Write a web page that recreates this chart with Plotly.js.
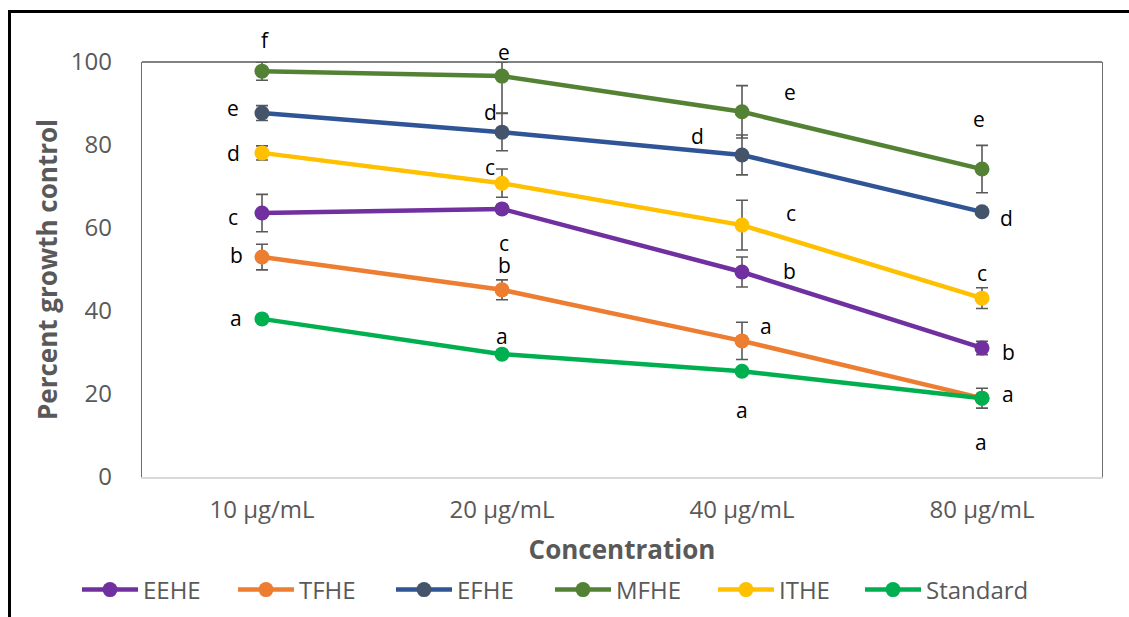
<!DOCTYPE html>
<html>
<head>
<meta charset="utf-8">
<script src="https://cdn.plot.ly/plotly-3.0.1.min.js"></script>
<style>
  html, body { margin: 0; padding: 0; background: #ffffff; overflow: hidden; }
  #chart { width: 1129px; height: 617px; position: absolute; left: 0; top: 0; }
  #frame { position: absolute; left: 8px; top: 10px; width: 3000px; height: 3000px;
           border-left: 3px solid #000; border-top: 3px solid #000; pointer-events: none; }
</style>
</head>
<body>
<div id="chart"></div>
<div id="frame"></div>
<script>
// ---- data ----
const categories = ['10 µg/mL', '20 µg/mL', '40 µg/mL', '80 µg/mL'];

const EEHE = [63.6, 64.6, 49.4, 31.1];
const EEHE_err = [4.5, 1.0, 3.6, 1.6];
const EEHE_letters = ['c', 'c', 'b', 'b'];

const TFHE = [53.0, 45.1, 32.8, 19.0];
const TFHE_err = [3.1, 2.4, 4.5, 2.4];
const TFHE_letters = ['b', 'b', 'a', 'a'];

const EFHE = [87.7, 83.1, 77.6, 63.9];
const EFHE_err = [1.8, 4.5, 4.8, 0.8];
const EFHE_letters = ['e', 'd', 'd', 'd'];

const MFHE = [97.8, 96.6, 88.0, 74.2];
const MFHE_err = [2.2, 8.9, 6.3, 5.7];
const MFHE_letters = ['f', 'e', 'e', 'e'];

const ITHE = [78.1, 70.8, 60.7, 43.1];
const ITHE_err = [1.7, 3.4, 6.0, 2.5];
const ITHE_letters = ['d', 'c', 'c', 'c'];

const Standard = [38.1, 29.6, 25.5, 19.0];
const Standard_err = [0, 0, 0, 0];
const Standard_letters = ['a', 'a', 'a', 'a'];

const Y_MAX = 100;

// ---- styling (not data) ----
const series = [
  {name: 'EEHE', y: EEHE, err: EEHE_err, letters: EEHE_letters, line: '#7030A0', marker: '#7030A0', lw: 85,
   offs: [[-29, 4], [2, 34], [47, -1], [26, 4]]},
  {name: 'TFHE', y: TFHE, err: TFHE_err, letters: TFHE_letters, line: '#ED7D31', marker: '#ED7D31', lw: 87,
   offs: [[-26, -2], [2, -25], [24, -15], [-1, 44]]},
  {name: 'EFHE', y: EFHE, err: EFHE_err, letters: EFHE_letters, line: '#2F5597', marker: '#44546A', lw: 88,
   offs: [[-29, -5], [-12, -20], [-45, -19], [24, 6]]},
  {name: 'MFHE', y: MFHE, err: MFHE_err, letters: MFHE_letters, line: '#548235', marker: '#548235', lw: 92,
   offs: [[3, -31], [2, -24], [48, -20], [-3, -50]]},
  {name: 'ITHE', y: ITHE, err: ITHE_err, letters: ITHE_letters, line: '#FFC000', marker: '#FFC000', lw: 76,
   offs: [[-29, 0], [-12, -16], [49, -12], [0, -25]]},
  {name: 'Standard', y: Standard, err: Standard_err, letters: Standard_letters, line: '#00B050', marker: '#00B050', lw: 106,
   offs: [[-26, -1], [0, -18], [0, 39], [26, -4]]}
];

const FONT = '"Open Sans", "Noto Sans", sans-serif';
const GRAY = '#595959';

const traces = series.map(s => ({
  type: 'scatter',
  mode: 'lines+markers',
  name: s.name,
  x: categories,
  y: s.y,
  line: {color: s.line, width: 4.5},
  marker: {color: s.marker, size: 15},
  legendwidth: s.lw,
  // error bars are clipped at the top of the plot area, as in the original
  error_y: {type: 'data', symmetric: false,
            array: s.err.map((e, i) => Math.min(e, Y_MAX - s.y[i])),
            arrayminus: s.err,
            visible: true, color: '#595959', thickness: 1.6, width: 6},
  cliponaxis: true
}));

const annotations = [];
series.forEach(s => {
  s.letters.forEach((t, i) => {
    annotations.push({
      xref: 'x', yref: 'y', x: categories[i], y: s.y[i],
      xshift: s.offs[i][0], yshift: -s.offs[i][1],
      text: t, showarrow: false,
      font: {family: FONT, size: 21, color: '#000000'}
    });
  });
});

const layout = {
  width: 1129, height: 617,
  paper_bgcolor: '#ffffff', plot_bgcolor: '#ffffff',
  margin: {l: 142, r: 27, t: 62, b: 140},
  font: {family: FONT, color: GRAY},
  showlegend: true,
  legend: {
    orientation: 'h', xref: 'container', yref: 'container',
    x: 77 / 1129, xanchor: 'left', y: 1 - 590 / 617, yanchor: 'middle',
    font: {family: FONT, size: 24, color: GRAY},
    entrywidth: 85, entrywidthmode: 'pixels', itemwidth: 56,
    traceorder: 'normal', bgcolor: 'rgba(0,0,0,0)'
  },
  xaxis: {
    type: 'category', range: [-0.5, 3.5],
    showgrid: false, zeroline: false,
    showline: true, linecolor: '#d9d9d9', linewidth: 2,
    ticks: '', ticklabelstandoff: 10,
    tickfont: {family: FONT, size: 24, color: GRAY},
    title: {text: 'Concentration', standoff: 21,
            font: {family: FONT, size: 26, color: GRAY, weight: 'bold'}}
  },
  yaxis: {
    range: [0, Y_MAX], dtick: 20, tick0: 0,
    showgrid: false, zeroline: false,
    showline: true, mirror: true, linecolor: '#6e6e6e', linewidth: 1.3,
    ticks: '', ticklabelstandoff: 24,
    tickfont: {family: FONT, size: 24, color: GRAY},
    title: {text: 'Percent growth control', standoff: 5,
            font: {family: FONT, size: 26, color: GRAY, weight: 'bold'}}
  },
  shapes: [
    {type: 'line', xref: 'paper', yref: 'paper', x0: 0, x1: 1, y0: 1, y1: 1,
     line: {color: '#595959', width: 1.3}}
  ],
  annotations: annotations
};

Plotly.newPlot('chart', traces, layout, {staticPlot: true, displayModeBar: false});
</script>
</body>
</html>
